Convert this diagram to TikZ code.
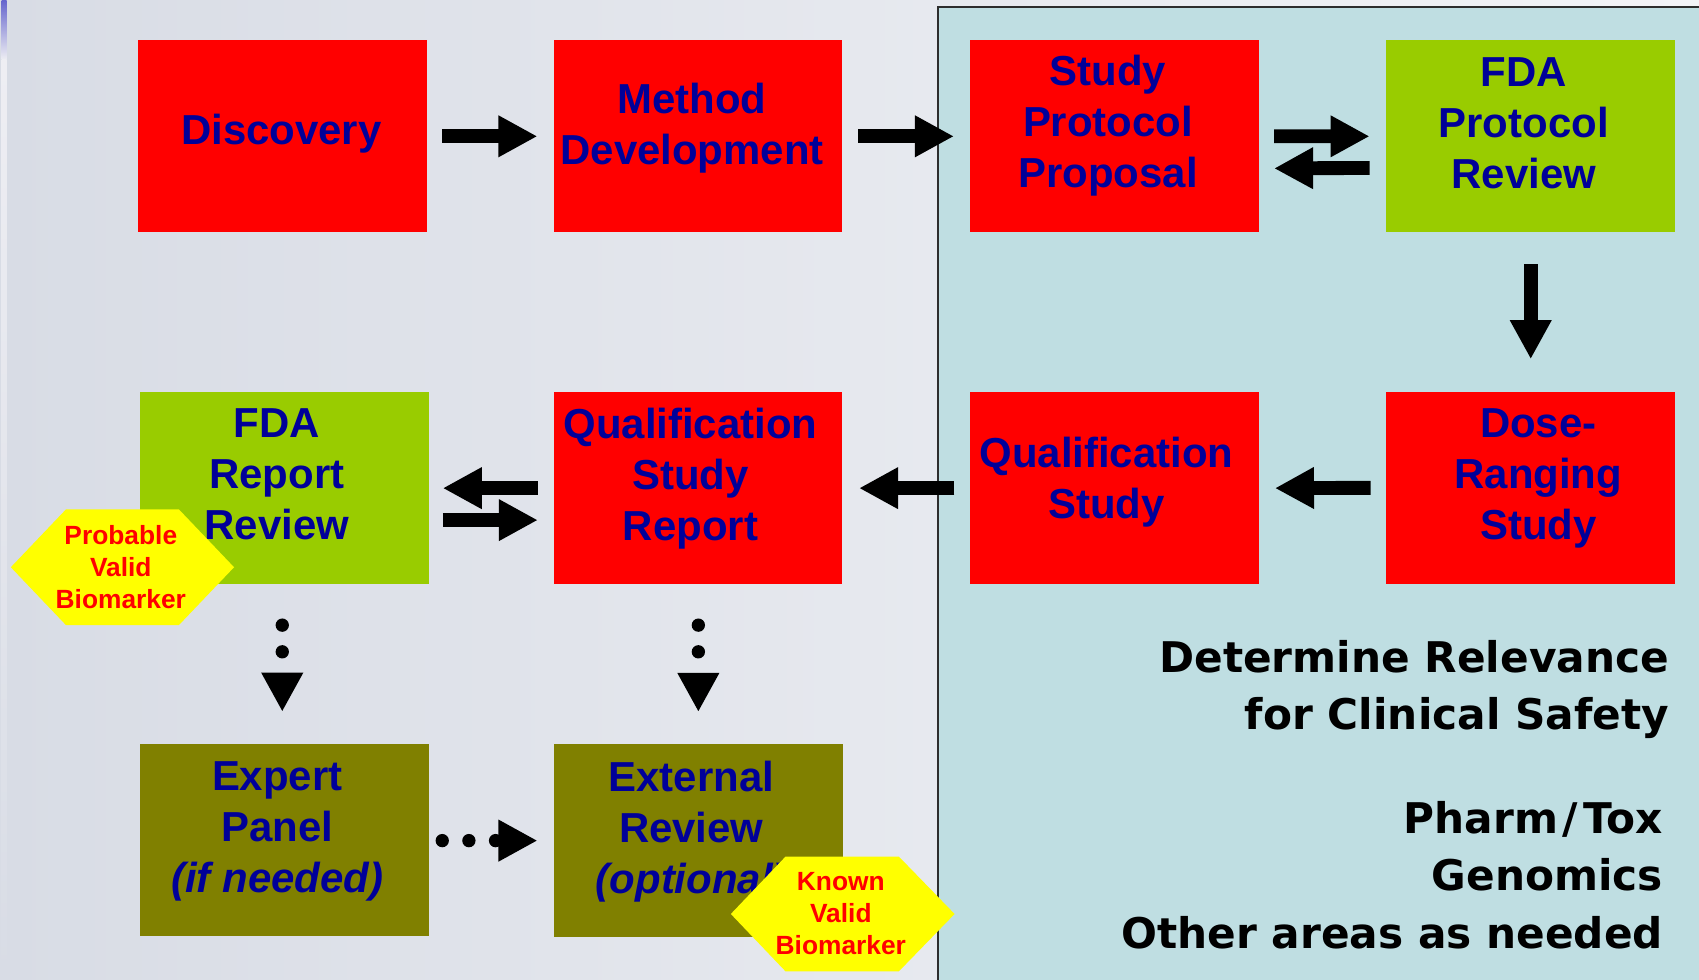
\documentclass[tikz,border=0pt]{standalone}
\usepackage{fontspec}
\setmainfont{Liberation Sans}
\newfontfamily\dejavu{DejaVu Sans}
\usetikzlibrary{arrows.meta,calc}
\definecolor{boxred}{RGB}{255,0,0}
\definecolor{boxgreen}{RGB}{153,204,0}
\definecolor{boxolive}{RGB}{128,128,0}
\definecolor{navytext}{RGB}{0,0,153}
\definecolor{hexyellow}{RGB}{255,255,0}
\definecolor{hexred}{RGB}{255,0,0}
\definecolor{panelblue}{RGB}{191,222,226}
\definecolor{bgleft}{RGB}{216,220,229}
\definecolor{bgright}{RGB}{243,244,247}
\definecolor{panelborder}{RGB}{45,45,45}
\definecolor{stripblue}{RGB}{100,100,205}
\definecolor{stripgray}{RGB}{238,238,243}
\tikzset{
  stepbox/.style={draw=none, minimum width=266.5pt, minimum height=177.5pt, inner sep=0pt, outer sep=0pt},
  redbox/.style={stepbox, fill=boxred},
  greenbox/.style={stepbox, fill=boxgreen},
  olivebox/.style={stepbox, fill=boxolive},
  boxtext/.style={text=navytext, font=\bfseries\fontsize{38.7}{47}\selectfont, align=center, inner sep=0pt},
  hextext/.style={text=hexred, font=\bfseries\fontsize{24.3}{29.5}\selectfont, align=center, inner sep=0pt},
  paneltext/.style={text=black, font=\dejavu\bfseries\fontsize{39}{47}\selectfont, inner sep=0pt, anchor=base east},
  blockarrow/.style={draw=black, line width=12.8pt, -{Triangle[length=36pt,width=36pt]}},
  dotarrow/.style={draw=black, line width=12.3pt, line cap=round, dash pattern=on 0pt off 24.6pt, -{Triangle[length=36pt,width=36pt]}},
}
\begin{document}
\begin{tikzpicture}[x=1pt,y=-1pt]
\useasboundingbox (0,0) rectangle (1568,904);
% background
\shade[left color=bgleft, right color=bgright] (0,0) rectangle (1568,904);
\shade[top color=stripblue, bottom color=stripgray] (1.6,0) rectangle (6.2,55);
\shade[top color=stripgray, bottom color=bgleft] (1.6,55) rectangle (6.2,904);
% right panel
\fill[panelblue] (865.4,6.8) rectangle (1568,904);
\draw[panelborder, line width=2pt] (865.4,904) |- (1568,6.8);

% boxes
\node[redbox]   (disc) at (260.7,125.8) {};
\node[redbox]   (meth) at (644.2,125.8) {};
\node[redbox]   (spp)  at (1028.6,125.8) {};
\node[greenbox] (fpr)  at (1412.7,125.4) {};
\node[greenbox] (frr)  at (262.4,450.5) {};
\node[redbox]   (qsr)  at (644.2,450.5) {};
\node[redbox]   (qs)   at (1028.6,450.5) {};
\node[redbox]   (drs)  at (1412.7,450.2) {};
\node[olivebox] (exp)  at (262.4,775.3) {};
\node[olivebox] (ext)  at (644.5,775.6) {};

% box texts
\node[boxtext] (discT) at ($(disc)+(-1,-2)$) {Discovery};
\node[boxtext] (methT) at ($(meth)+(-5.5,-7.5)$) {Method\\Development};
\node[boxtext] (sppT)  at ($(spp)+(-6,-10)$) {Study\\Protocol\\Proposal};
\node[boxtext] (fprT)  at ($(fpr)+(-6.5,-12)$) {FDA\\Protocol\\Review};
\node[boxtext] (frrT)  at ($(frr)+(-7,-12.5)$) {FDA\\Report\\Review};
\node[boxtext] (qsrT)  at ($(qsr)+(-7,-9)$) {Qualification\\Study\\Report};
\node[boxtext] (qsT)   at ($(qs)+(-7.5,-5.5)$) {Qualification\\Study};
\node[boxtext] (drsT)  at ($(drs)+(7,-9)$) {Dose-\\Ranging\\Study};
\node[boxtext] (expT)  at ($(exp)+(-6.5,-8)$) {Expert\\Panel\\\textit{(if needed)}};
\node[boxtext] (extT)  at ($(ext)+(-6.5,-8)$) {External\\Review\\\textit{(optional)}};

% block arrows
\draw[blockarrow] ($(disc.east)+(14,0)$) -- ($(meth.west)+(-15,0)$);
\draw[blockarrow] ($(meth.east)+(14.5,0)$) -- ($(spp.west)+(-15,0)$);
\draw[blockarrow] ($(spp.east)+(14,0)$) -- ($(fpr.west)+(-15.5,0.4)$);
\draw[blockarrow] ($(fpr.west)+(-15.5,29.6)$) -- ($(spp.east)+(14,29.6)$);
\draw[blockarrow] ($(fpr.south)+(0,29.5)$) -- ($(drs.north)+(0,-30)$);
\draw[blockarrow] ($(drs.west)+(-14.5,0)$) -- ($(qs.east)+(14.8,0)$);
\draw[blockarrow] ($(qs.west)+(-14.5,0)$) -- ($(qsr.east)+(15.4,0)$);
\draw[blockarrow] ($(qsr.west)+(-14.6,0)$) -- ($(frr.east)+(13,0)$);
\draw[blockarrow] ($(frr.east)+(13,29.5)$) -- ($(qsr.west)+(-14.6,29.5)$);

% dotted arrows
\draw[dotarrow] ($(frr.south)+(-1.9,37.7)$) -- ($(exp.north)+(-1.9,-29.7)$);
\draw[dotarrow] ($(qsr.south)+(0.3,37.7)$) -- ($(ext.north)+(0,-29.8)$);
\draw[dotarrow] ($(exp.east)+(12.5,0.5)$) -- ($(ext.west)+(-15.2,0.2)$);

% hexagon badges
\coordinate (pvbc) at (113,523.5);
\fill[hexyellow] ($(pvbc)+(-103,0)$) -- ($(pvbc)+(-52,-53.5)$) -- ($(pvbc)+(52,-53.5)$) -- ($(pvbc)+(103,0)$) -- ($(pvbc)+(52,53.5)$) -- ($(pvbc)+(-52,53.5)$) -- cycle;
\node[hextext] (pvb) at ($(pvbc)+(-1.5,0)$) {Probable\\Valid\\Biomarker};
\coordinate (kvbc) at (777.5,843.5);
\fill[hexyellow] ($(kvbc)+(-103,0)$) -- ($(kvbc)+(-52.5,-53)$) -- ($(kvbc)+(52,-53)$) -- ($(kvbc)+(103.5,0)$) -- ($(kvbc)+(52,53)$) -- ($(kvbc)+(-52.5,53)$) -- cycle;
\node[hextext] (kvb) at ($(kvbc)+(-1.5,0)$) {Known\\Valid\\Biomarker};

% panel texts
\node[paneltext] (t1) at (1540.5,621) {Determine Relevance};
\node[paneltext] (t2) at (1540.5,673.5) {for Clinical Safety};
\node[paneltext] (t3) at (1535,769) {Pharm\kern4pt/\kern5pt{}Tox};
\node[paneltext] (t4) at (1535,821.5) {Genomics};
\node[paneltext] (t5) at (1535,875) {Other areas as needed};
\end{tikzpicture}
\end{document}
